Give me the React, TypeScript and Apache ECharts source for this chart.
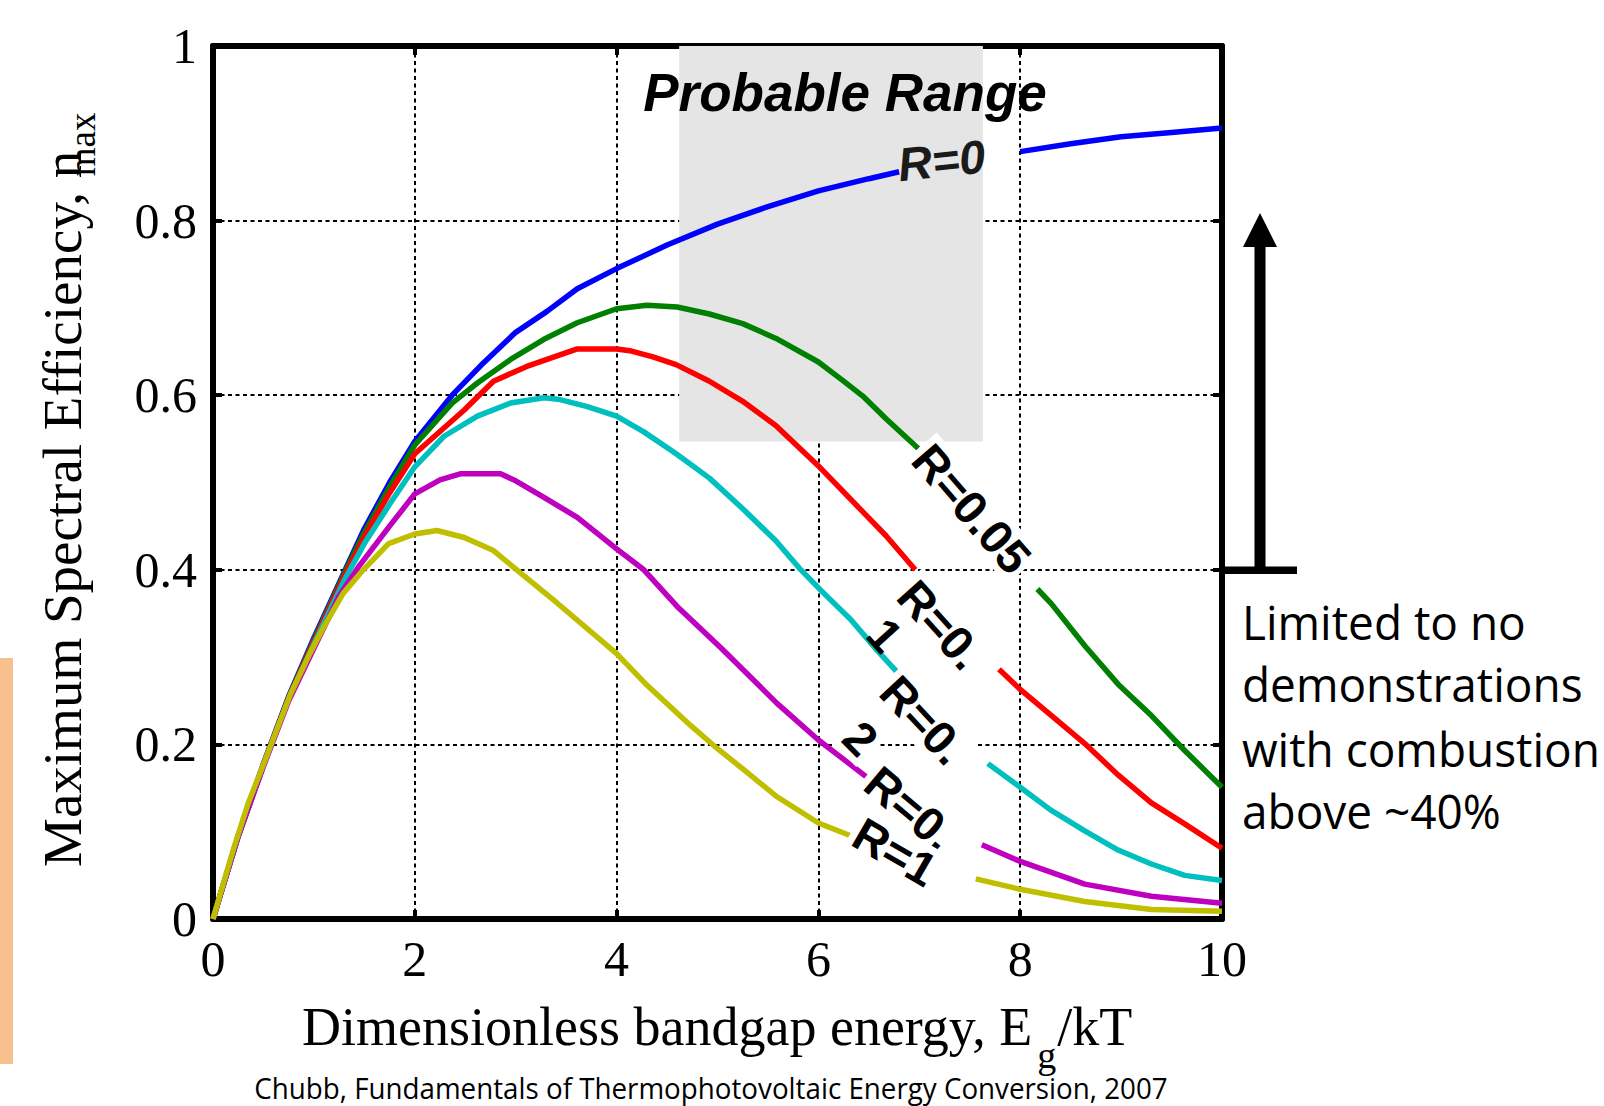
import React, { useEffect, useRef } from "react";
import * as echarts from "echarts";

const W = 1604;
const H = 1106;

// axis ticks
const xTickMin = 0;
const xTickMax = 10;
const xTickStep = 2;
const yTickMin = 0;
const yTickMax = 1;
const yTickStep = 0.2;

// curves (R = reflectance); each curve is split where the original label breaks it
const curveNames = ["R=0", "R=0.05", "R=0.1", "R=0.2", "R=0.5", "R=1"];
const curveColors = ["#0000ff", "#008000", "#ff0000", "#00bfbf", "#bf00bf", "#bfbf00"];

const r0Left = [[0, 0], [0.25, 0.095], [0.5, 0.178], [0.75, 0.255], [1, 0.322], [1.31, 0.4], [1.5, 0.447], [1.75, 0.5], [2, 0.547], [2.37, 0.6], [2.68, 0.637], [3, 0.672], [3.31, 0.696], [3.61, 0.722], [4, 0.745], [4.5, 0.772], [5, 0.796], [5.5, 0.816], [6, 0.834], [6.5, 0.848], [6.8, 0.856]];
const r0Right = [[8, 0.879], [8.5, 0.888], [9, 0.896], [9.5, 0.901], [10, 0.906]];

const r005Left = [[0, 0], [0.25, 0.095], [0.5, 0.177], [0.75, 0.254], [1, 0.32], [1.31, 0.398], [1.5, 0.443], [1.75, 0.495], [2, 0.543], [2.37, 0.591], [2.62, 0.614], [2.95, 0.641], [3.28, 0.664], [3.61, 0.683], [4, 0.699], [4.3, 0.703], [4.6, 0.701], [4.92, 0.693], [5.25, 0.682], [5.58, 0.665], [6, 0.638], [6.24, 0.617], [6.44, 0.599], [6.67, 0.573], [6.99, 0.539]];
const r005Right = [[8.17, 0.378], [8.31, 0.361], [8.64, 0.313], [8.97, 0.269], [9.3, 0.233], [9.63, 0.193], [10, 0.151]];

const r01Left = [[0, 0], [0.25, 0.095], [0.5, 0.177], [0.75, 0.253], [1, 0.318], [1.31, 0.395], [1.5, 0.438], [1.75, 0.488], [2, 0.533], [2.49, 0.583], [2.78, 0.616], [3.11, 0.633], [3.61, 0.653], [4, 0.653], [4.13, 0.651], [4.36, 0.644], [4.59, 0.635], [4.92, 0.616], [5.25, 0.593], [5.58, 0.565], [6, 0.519], [6.41, 0.47], [6.67, 0.439], [6.96, 0.4]];
const r01Right = [[7.79, 0.286], [8, 0.263], [8.31, 0.233], [8.64, 0.201], [8.97, 0.165], [9.3, 0.133], [9.63, 0.109], [10, 0.081]];

const r02Left = [[0, 0], [0.25, 0.095], [0.5, 0.176], [0.75, 0.252], [1, 0.315], [1.31, 0.39], [1.5, 0.43], [1.75, 0.475], [2, 0.518], [2.29, 0.553], [2.62, 0.576], [2.95, 0.591], [3.28, 0.597], [3.44, 0.595], [3.71, 0.587], [4, 0.576], [4.27, 0.558], [4.59, 0.533], [4.92, 0.505], [5.25, 0.47], [5.58, 0.433], [5.81, 0.402], [6.02, 0.377], [6.32, 0.343], [6.58, 0.308], [6.81, 0.279]];
const r02Right = [[7.68, 0.178], [8, 0.151], [8.3, 0.125], [8.64, 0.101], [8.97, 0.079], [9.3, 0.063], [9.63, 0.05], [10, 0.044]];

const r05Left = [[0, 0], [0.25, 0.095], [0.5, 0.175], [0.75, 0.25], [1, 0.31], [1.25, 0.37], [1.44, 0.403], [1.75, 0.45], [2, 0.487], [2.25, 0.503], [2.45, 0.51], [2.85, 0.51], [3, 0.502], [3.28, 0.483], [3.61, 0.46], [4, 0.424], [4.27, 0.4], [4.6, 0.358], [5.03, 0.311], [5.59, 0.247], [6, 0.205], [6.26, 0.182], [6.53, 0.158]];
const r05Right = [[7.62, 0.085], [8, 0.066], [8.64, 0.04], [9.3, 0.026], [10, 0.018]];

const r1Left = [[0, 0], [0.2, 0.079], [0.35, 0.133], [0.52, 0.183], [0.77, 0.258], [0.96, 0.304], [1.1, 0.335], [1.29, 0.373], [1.49, 0.4], [1.74, 0.43], [2, 0.441], [2.22, 0.445], [2.49, 0.437], [2.78, 0.422], [3.01, 0.4], [3.41, 0.362], [4, 0.304], [4.3, 0.268], [4.73, 0.222], [4.96, 0.199], [5.26, 0.171], [5.59, 0.14], [6, 0.11], [6.35, 0.094]];
const r1Right = [[7.56, 0.046], [8, 0.034], [8.64, 0.02], [9.3, 0.011], [10, 0.009]];

const curveParts = [
  [r0Left, r0Right],
  [r005Left, r005Right],
  [r01Left, r01Right],
  [r02Left, r02Right],
  [r05Left, r05Right],
  [r1Left, r1Right],
];

// shaded "probable range"
const probableX = [4.62, 7.63];
const probableY = [0.547, 1];

// in-plot curve labels (as they appear, partly clipped in the original)
const labelTexts = ["R=0", "R=0.05", "R=0.", "1", "R=0.", "2", "R=0.", "R=1"];
const labelX = [7.22, 7.52, 7.21, 6.66, 7.04, 6.42, 6.91, 6.76];
const labelY = [0.869, 0.47, 0.337, 0.325, 0.228, 0.207, 0.127, 0.077];
const labelAngles = [6, -49, -48, -48, -47, -45, -40, -30];
const labelMasked = [false, true, true, false, true, true, true, true];
const labelItalic = [true, false, false, false, false, false, false, false];

const noteLines = ["Limited to no", "demonstrations", "with combustion", "above ~40%"];
const creditText = "Chubb, Fundamentals of Thermophotovoltaic Energy Conversion, 2007";
const yTitleMain = "Maximum Spectral Efficiency, n";
const yTitleSub = "max";
const xTitleMain = "Dimensionless bandgap energy, E";
const xTitleSub = "g";
const xTitleTail = "/kT";
const probableTitle = "Probable Range";

const SERIF = '"Liberation Serif", "Times New Roman", serif';
const SANS = '"Liberation Sans", Arial, sans-serif';
const CAL = '"Open Sans", "Noto Sans", sans-serif';

function measure(text: string, font: string): number {
  const c = document.createElement("canvas").getContext("2d");
  if (!c) return text.length * 10;
  c.font = font;
  return c.measureText(text).width;
}

export default function App() {
  const ref = useRef<HTMLDivElement | null>(null);

  useEffect(() => {
    if (!ref.current) return;
    const chart = echarts.init(ref.current, null, { renderer: "svg", width: W, height: H });

    const gridLine = { show: true, lineStyle: { color: "#000", width: 2, type: [4, 3.5] as any } };
    const axisLine = { show: true, onZero: false, lineStyle: { color: "#000", width: 6 } };
    const tick = { show: true, inside: true, length: 9, lineStyle: { color: "#000", width: 4 } };

    const series: any[] = [];
    series.push({
      type: "line",
      name: "probable",
      data: [],
      z: -1,
      silent: true,
      markArea: {
        silent: true,
        itemStyle: { color: "#e5e5e5" },
        data: [[{ xAxis: probableX[0], yAxis: probableY[0] }, { xAxis: probableX[1], yAxis: probableY[1] }]],
      },
    });
    curveParts.forEach((parts, i) => {
      parts.forEach((part) => {
        series.push({
          type: "line",
          name: curveNames[i],
          data: part,
          showSymbol: false,
          symbol: "none",
          smooth: false,
          lineStyle: { color: curveColors[i], width: 5.5 },
          z: 3,
        });
      });
    });

    const option: any = {
      animation: false,
      backgroundColor: "#fff",
      grid: { left: 213, top: 46, right: W - 1222, bottom: H - 919, show: false },
      xAxis: [
        {
          type: "value", position: "bottom", min: xTickMin, max: xTickMax, interval: xTickStep,
          axisLine, axisTick: tick, splitLine: gridLine,
          axisLabel: { color: "#000", fontFamily: SERIF, fontSize: 50, margin: 15 },
        },
        {
          type: "value", position: "top", min: xTickMin, max: xTickMax, interval: xTickStep,
          axisLine, axisTick: tick, splitLine: { show: false }, axisLabel: { show: false },
        },
      ],
      yAxis: [
        {
          type: "value", position: "left", min: yTickMin, max: yTickMax, interval: yTickStep,
          axisLine, axisTick: tick, splitLine: gridLine,
          axisLabel: { color: "#000", fontFamily: SERIF, fontSize: 50, margin: 16 },
        },
        {
          type: "value", position: "right", min: yTickMin, max: yTickMax, interval: yTickStep,
          axisLine, axisTick: tick, splitLine: { show: false }, axisLabel: { show: false },
        },
      ],
      series,
    };
    chart.setOption(option);

    // texts & decorations
    const g: any[] = [];
    g.push({ type: "rect", shape: { x: 0, y: 658, width: 13, height: 406 }, style: { fill: "#f9c08f" }, z: 1 });

    // y-axis title
    const yFont = 55;
    const wYMain = measure(yTitleMain, `${yFont}px ${SERIF}`);
    const wN = measure("n", `${yFont}px ${SERIF}`);
    const yStart = 867;
    g.push({
      type: "text", x: 62, y: yStart, rotation: Math.PI / 2, z: 10,
      style: { text: yTitleMain, fontFamily: SERIF, fontSize: yFont, fill: "#000", align: "left", verticalAlign: "middle" },
    });
    g.push({
      type: "text", x: 82, y: yStart - wYMain + wN - 2, rotation: Math.PI / 2, z: 10,
      style: { text: yTitleSub, fontFamily: SERIF, fontSize: 37, fill: "#000", align: "left", verticalAlign: "middle" },
    });

    // x-axis title
    const xFont = 54;
    const xStart = 302;
    const wXMain = measure(xTitleMain, `${xFont}px ${SERIF}`);
    const wG = measure(xTitleSub, `38px ${SERIF}`);
    g.push({
      type: "text", x: xStart, y: 1027, z: 10,
      style: { text: xTitleMain, fontFamily: SERIF, fontSize: xFont, fill: "#000", align: "left", verticalAlign: "middle" },
    });
    g.push({
      type: "text", x: xStart + wXMain + 5, y: 1055, z: 10,
      style: { text: xTitleSub, fontFamily: SERIF, fontSize: 38, fill: "#000", align: "left", verticalAlign: "middle" },
    });
    g.push({
      type: "text", x: xStart + wXMain + 6 + wG, y: 1027, z: 10,
      style: { text: xTitleTail, fontFamily: SERIF, fontSize: xFont, fill: "#000", align: "left", verticalAlign: "middle" },
    });

    // Probable Range title
    g.push({
      type: "text", x: 845, y: 92, z: 10,
      style: { text: probableTitle, fontFamily: SANS, fontSize: 53, fontWeight: "bold", fontStyle: "italic", fill: "#000", align: "center", verticalAlign: "middle" },
    });

    // arrow
    g.push({ type: "rect", shape: { x: 1254.5, y: 244, width: 11, height: 326 }, style: { fill: "#000" }, z: 10 });
    g.push({ type: "polygon", shape: { points: [[1243, 247], [1277, 247], [1260, 213]] }, style: { fill: "#000" }, z: 10 });
    g.push({ type: "rect", shape: { x: 1222, y: 566.5, width: 75, height: 7.5 }, style: { fill: "#000" }, z: 10 });

    // note
    const noteFont = 47;
    const noteScale = 358 / measure(noteLines[2], `${noteFont}px ${CAL}`);
    const noteY = [622, 684, 749, 811];
    noteLines.forEach((t, i) => {
      g.push({
        type: "text", x: 1242, y: noteY[i], scaleX: noteScale, z: 10,
        style: { text: t, fontFamily: CAL, fontSize: noteFont, lineHeight: 50, fill: "#000", align: "left", verticalAlign: "middle" },
      });
    });

    // credit
    const creditFont = 29;
    const creditScale = 914 / measure(creditText, `${creditFont}px ${CAL}`);
    g.push({
      type: "text", x: 711, y: 1088, scaleX: creditScale, z: 10,
      style: { text: creditText, fontFamily: CAL, fontSize: creditFont, lineHeight: 30, fill: "#000", align: "center", verticalAlign: "middle" },
    });

    // curve labels
    labelTexts.forEach((t, i) => {
      const p = chart.convertToPixel({ xAxisIndex: 0, yAxisIndex: 0 } as any, [labelX[i], labelY[i]]) as any;
      const style: any = {
        text: t, fontFamily: SANS, fontSize: 47, fontWeight: "bold",
        fontStyle: labelItalic[i] ? "italic" : "normal",
        fill: i === 0 ? "#1a1a1a" : "#000", align: "center", verticalAlign: "middle",
      };
      if (labelMasked[i]) {
        style.backgroundColor = "#fff";
        style.padding = [0, 4];
      }
      g.push({ type: "text", x: p[0], y: p[1], rotation: (labelAngles[i] * Math.PI) / 180, z: 20, style });
    });

    chart.setOption({ graphic: { elements: g } });

    return () => chart.dispose();
  }, []);

  return <div ref={ref} style={{ position: "absolute", left: 0, top: 0, width: W, height: H }} />;
}
